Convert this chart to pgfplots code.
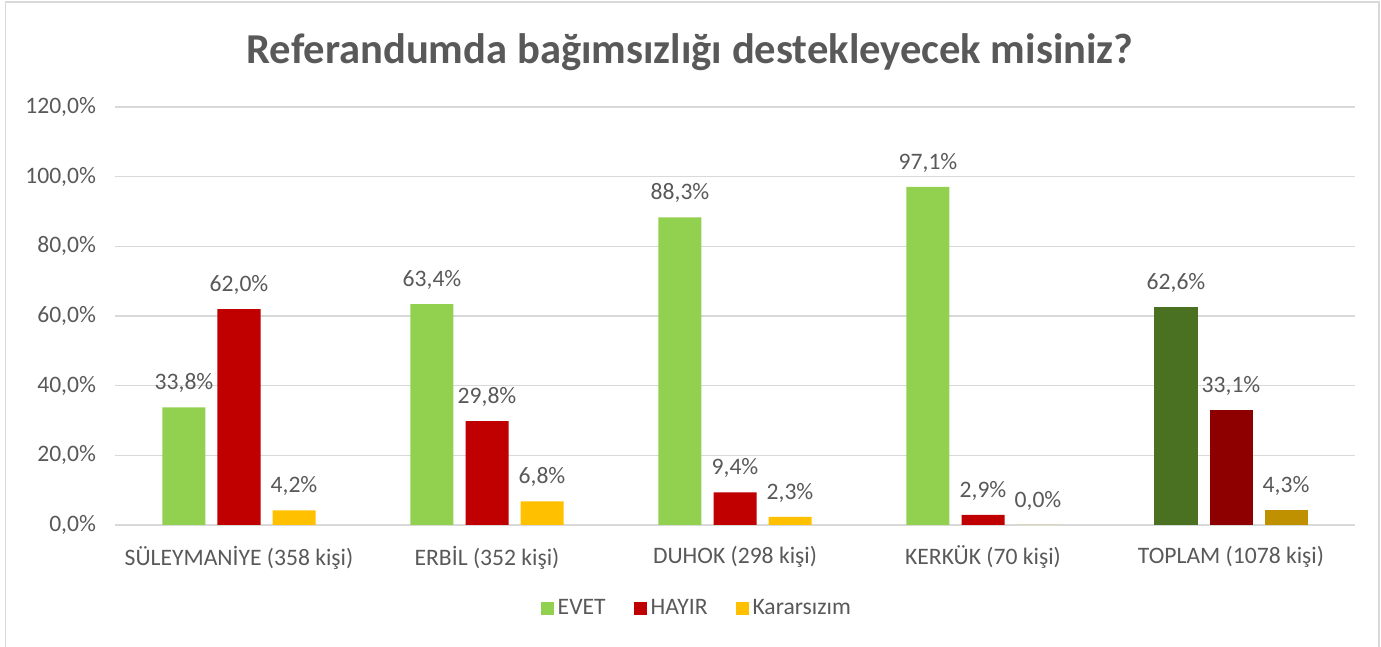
\documentclass[border=0pt]{standalone}
\usepackage{pgfplots}
\pgfplotsset{compat=1.18}
\usepackage{fontspec}
\setmainfont{Carlito}
\definecolor{txt}{HTML}{595959}
\definecolor{gridc}{HTML}{D9D9D9}
\definecolor{cevet}{HTML}{92D050}
\definecolor{chayir}{HTML}{C00000}
\definecolor{ckarar}{HTML}{FFC000}
\definecolor{devet}{HTML}{4A7021}
\definecolor{dhayir}{HTML}{8E0000}
\definecolor{dkarar}{HTML}{BF9000}
\begin{document}
\begin{tikzpicture}
\path[use as bounding box] (0,0) rectangle (690.5pt,323.5pt);
\draw[gridc, line width=0.8pt] (2.75pt,-1pt) -- (2.75pt,322.5pt) -- (689.5pt,322.5pt) -- (689.5pt,-1pt);
\node[txt, font=\fontsize{21.3}{25}\selectfont\bfseries] at (345pt,297.5pt) {Referandumda bağımsızlığı destekleyecek misiniz?};
\begin{axis}[
  at={(57.5pt,61pt)}, anchor=south west,
  scale only axis, width=620pt, height=209pt,
  ybar, bar width=0.1734,
  xmin=-0.5, xmax=4.5, ymin=0, ymax=120,
  ytick={0,20,...,120},
  xtick={0,1,2,3,4},
  xticklabels={SÜLEYMANİYE (358 kişi), ERBİL (352 kişi), DUHOK (298 kişi), KERKÜK (70 kişi), TOPLAM (1078 kişi)},
  /pgf/number format/assume math mode=true,
  yticklabel={\pgfmathprintnumber[fixed,fixed zerofill,precision=1,use comma]{\tick}\%},
  axis x line*=bottom, axis y line*=left,
  x axis line style={gridc, line width=0.8pt, -},
  y axis line style={draw=none},
  ymajorgrids, grid style={gridc, line width=0.8pt},
  major tick length=0pt,
  tick label style={txt, font=\fontsize{11.8}{14}\selectfont},
  yticklabel style={xshift=-6pt},
  xticklabel style={yshift=-7pt},
  nodes near coords={\pgfmathprintnumber[fixed,fixed zerofill,precision=1,use comma]{\pgfplotspointmeta}\%},
  every node near coord/.append style={txt, font=\fontsize{11.8}{14}\selectfont, anchor=south, inner sep=0pt, yshift=7pt},
  legend style={at={(0.470,-0.1986)}, anchor=center, legend columns=-1, draw=none, fill=none,
    font=\fontsize{11.8}{14}\selectfont, text=txt,
    /tikz/every even column/.append style={column sep=12pt}},
  legend image code/.code={\fill[#1] (0pt,-3.25pt) rectangle (6.5pt,3.25pt);},
]
\addplot[fill=cevet, draw=none, bar shift=-0.2218] coordinates {(0,33.8) (1,63.4) (2,88.3) (3,97.1)};
\addplot[fill=chayir, draw=none, bar shift=0] coordinates {(0,62.0) (1,29.8) (2,9.4) (3,2.9)};
\addplot[fill=ckarar, draw=none, bar shift=0.2218] coordinates {(0,4.2) (1,6.8) (2,2.3) (3,0.0)};
\addplot[fill=devet, draw=none, bar shift=-0.2218, forget plot] coordinates {(4,62.6)};
\addplot[fill=dhayir, draw=none, bar shift=0, forget plot] coordinates {(4,33.1)};
\addplot[fill=dkarar, draw=none, bar shift=0.2218, forget plot] coordinates {(4,4.3)};
\legend{EVET, HAYIR, Kararsızım}
\end{axis}
\end{tikzpicture}
\end{document}
